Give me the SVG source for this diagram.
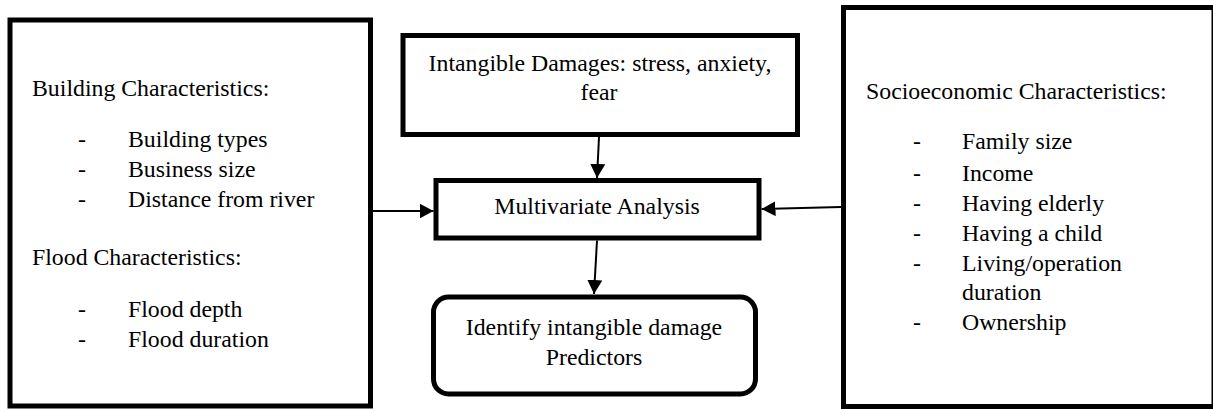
<svg xmlns="http://www.w3.org/2000/svg" width="1213" height="410" viewBox="0 0 1213 410">
<style>
.box{fill:#fff;stroke:#000;stroke-width:5}
.t{font-family:"Liberation Serif","Times New Roman",serif;font-size:23.8px;fill:#000}
.c{text-anchor:middle}
.ln{stroke:#000;stroke-width:2;fill:none}
</style>
<defs>
<marker id="ah" viewBox="0 0 14 15" refX="14" refY="7.5" markerWidth="14" markerHeight="15" markerUnits="userSpaceOnUse" orient="auto">
<path d="M0,0 L14,7.5 L0,15 Z" fill="#000"/>
</marker>
</defs>
<rect width="1213" height="410" fill="#fff"/>
<g id="building-flood">
<rect class="box" x="10" y="20" width="360.5" height="386"/>
<text class="t" x="32" y="96">Building Characteristics:</text>
<text class="t" x="78" y="147">-</text><text class="t" x="128" y="147">Building types</text>
<text class="t" x="78" y="177">-</text><text class="t" x="128" y="177">Business size</text>
<text class="t" x="78" y="207">-</text><text class="t" x="128" y="207">Distance from river</text>
<text class="t" x="32" y="265">Flood Characteristics:</text>
<text class="t" x="78" y="317">-</text><text class="t" x="128" y="317">Flood depth</text>
<text class="t" x="78" y="347">-</text><text class="t" x="128" y="347">Flood duration</text>
</g>
<g id="intangible">
<rect class="box" x="403" y="35.5" width="394.5" height="99"/>
<text class="t c" x="600" y="71">Intangible Damages: stress, anxiety,</text>
<text class="t c" x="599" y="100">fear</text>
</g>
<g id="multivariate">
<rect class="box" x="436" y="180.5" width="323" height="57.5"/>
<text class="t c" x="597" y="214">Multivariate Analysis</text>
</g>
<g id="predictors">
<rect class="box" x="433.5" y="297" width="322" height="97" rx="15" ry="15"/>
<text class="t c" x="594" y="335">Identify intangible damage</text>
<text class="t c" x="594" y="365">Predictors</text>
</g>
<g id="socioeconomic">
<rect class="box" x="843.5" y="7.5" width="370.5" height="399"/>
<text class="t" x="866" y="99">Socioeconomic Characteristics:</text>
<text class="t" x="913" y="149">-</text><text class="t" x="962" y="149">Family size</text>
<text class="t" x="913" y="181">-</text><text class="t" x="962" y="181">Income</text>
<text class="t" x="913" y="211">-</text><text class="t" x="962" y="211">Having elderly</text>
<text class="t" x="913" y="241">-</text><text class="t" x="962" y="241">Having a child</text>
<text class="t" x="913" y="271">-</text><text class="t" x="962" y="271">Living/operation</text>
<text class="t" x="962" y="300">duration</text>
<text class="t" x="913" y="330">-</text><text class="t" x="962" y="330">Ownership</text>
</g>
<g id="connectors">
<line class="ln" x1="599" y1="137" x2="597" y2="178" marker-end="url(#ah)"/>
<line class="ln" x1="597" y1="240.5" x2="594" y2="294" marker-end="url(#ah)"/>
<line class="ln" x1="373" y1="211" x2="433.5" y2="211" marker-end="url(#ah)"/>
<line class="ln" x1="841" y1="207" x2="761.5" y2="209" marker-end="url(#ah)"/>
</g>
</svg>
